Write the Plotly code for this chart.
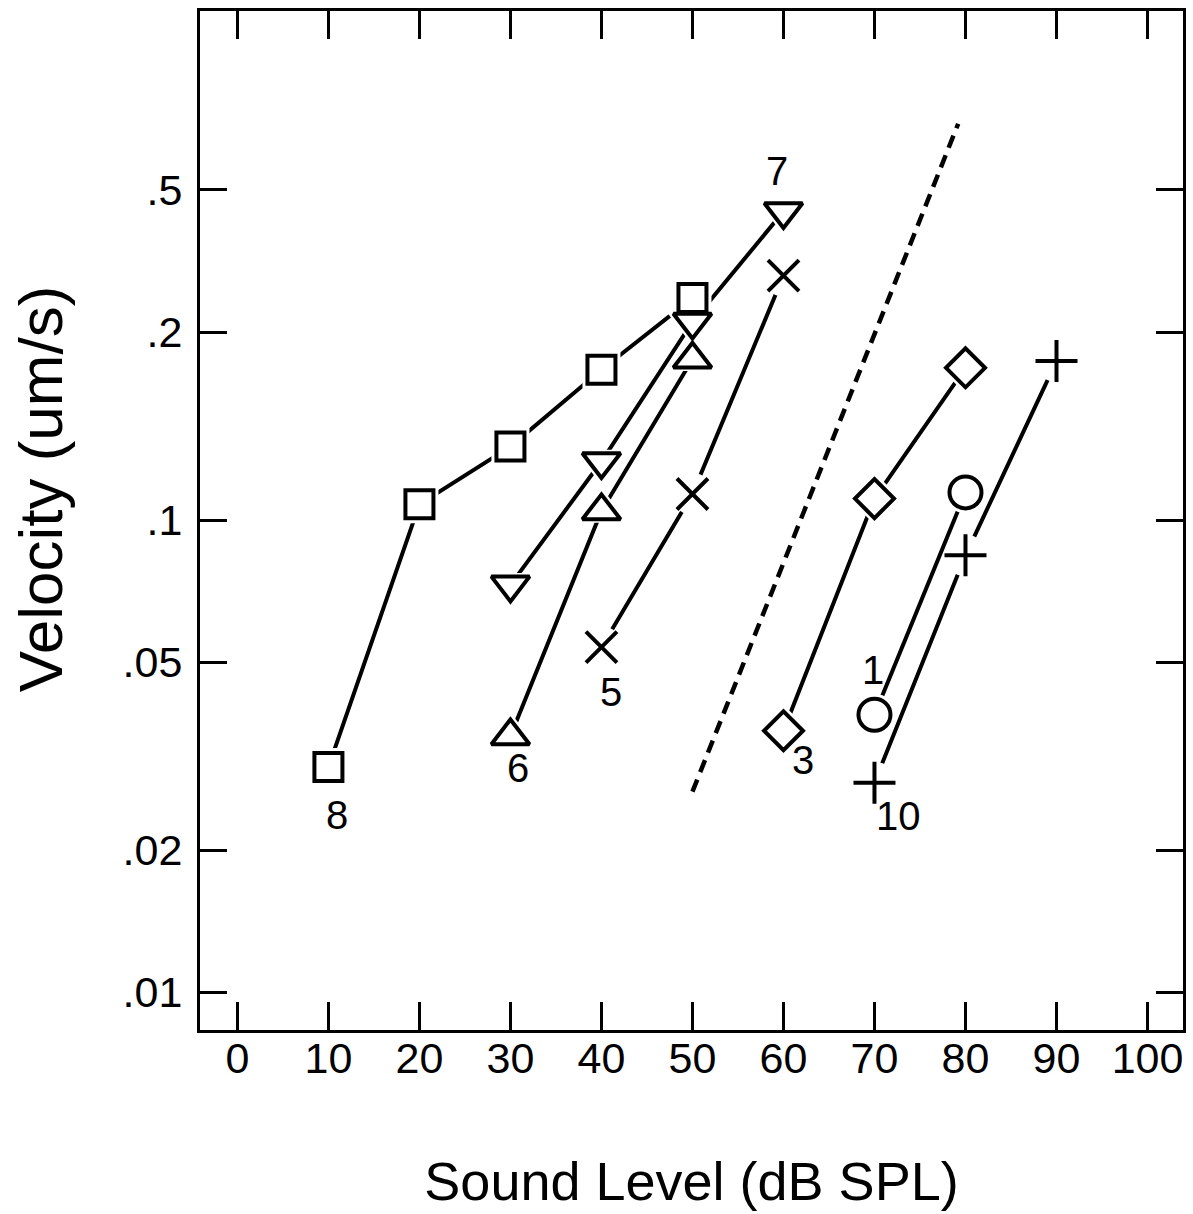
import numpy as np
import plotly.graph_objects as go

# ---------------- data ----------------
s8_x = [10, 20, 30, 40, 50]
s8_y = [0.030, 0.108, 0.143, 0.208, 0.295]

s7_x = [30, 40, 50, 60]
s7_y = [0.0729, 0.133, 0.2625, 0.450]

s6_x = [30, 40, 50]
s6_y = [0.0349, 0.1045, 0.219]

s5_x = [40, 50, 60]
s5_y = [0.0538, 0.1135, 0.329]

s3_x = [60, 70, 80]
s3_y = [0.0358, 0.111, 0.210]

s1_x = [70, 80]
s1_y = [0.0387, 0.1144]

s10_x = [70, 80, 90]
s10_y = [0.0278, 0.0842, 0.217]

ref_x = [50, 79.2]
ref_y = [0.0266, 0.69]

x_tickvals = [0, 10, 20, 30, 40, 50, 60, 70, 80, 90, 100]
y_tickvals = [0.01, 0.02, 0.05, 0.1, 0.25, 0.5]
y_ticktext = [".01", ".02", ".05", ".1", ".2", ".5"]

series_names = ["8", "7", "6", "5", "3", "1", "10"]
series_x = [s8_x, s7_x, s6_x, s5_x, s3_x, s1_x, s10_x]
series_y = [s8_y, s7_y, s6_y, s5_y, s3_y, s1_y, s10_y]

# ---------------- styles ----------------
FONT = "Liberation Sans, Arial, Helvetica, sans-serif"
LW = 4
# symbol, size, halo symbol, halo size
styles = {
    "8": ("square", 28, "square", 38),
    "7": ("triangle-down", 33, "triangle-down", 47),
    "6": ("triangle-up", 33, "triangle-up", 47),
    "5": ("x-thin", 31, "circle", 42),
    "3": ("diamond", 30, "diamond", 40),
    "1": ("circle", 32, "circle", 42),
    "10": ("cross-thin", 30, "circle", 42),
}
# label: (index of point, xshift px, yshift px)
label_pos = {
    "8": (0, 9, -48),
    "7": (-1, -6, 40),
    "6": (0, 8, -32),
    "5": (0, 10, -45),
    "3": (0, 20, -29),
    "1": (0, -1, 45),
    "10": (0, 24, -33),
}

fig = go.Figure()

# connecting lines
for name, xs, ys in zip(series_names, series_x, series_y):
    fig.add_trace(go.Scatter(x=xs, y=ys, mode="lines",
                             line=dict(color="black", width=LW),
                             showlegend=False, hoverinfo="skip"))

# reference dashed line
fig.add_trace(go.Scatter(x=ref_x, y=ref_y, mode="lines",
                         line=dict(color="black", width=4.5, dash="13px,8px"),
                         showlegend=False, hoverinfo="skip"))

# white halos to create gaps between lines and symbols
for name, xs, ys in zip(series_names, series_x, series_y):
    sym, size, hsym, hsize = styles[name]
    fig.add_trace(go.Scatter(x=xs, y=ys, mode="markers",
                             marker=dict(symbol=hsym, size=hsize, color="white",
                                         line=dict(width=0)),
                             showlegend=False, hoverinfo="skip"))

# symbols
for name, xs, ys in zip(series_names, series_x, series_y):
    sym, size, hsym, hsize = styles[name]
    fig.add_trace(go.Scatter(x=xs, y=ys, mode="markers", name=name,
                             marker=dict(symbol=sym, size=size, color="white",
                                         line=dict(color="black", width=LW)),
                             showlegend=False))

# series labels
annotations = []
for name, xs, ys in zip(series_names, series_x, series_y):
    idx, dx, dy = label_pos[name]
    annotations.append(dict(x=xs[idx], y=np.log10(ys[idx]), xref="x", yref="y",
                            text=name, showarrow=False, xshift=dx, yshift=dy,
                            font=dict(family=FONT, size=40, color="black")))

# y-axis title
annotations.append(dict(x=-0.162, y=0.5 + 32 / 1019, xref="paper", yref="paper",
                        text="Velocity (um/s)", textangle=-90, showarrow=False,
                        xanchor="center", yanchor="middle",
                        font=dict(family=FONT, size=62, color="black")))

axis_common = dict(showline=True, linecolor="black", linewidth=3,
                   mirror="allticks", ticks="inside", tickcolor="black",
                   tickwidth=2.5, showgrid=False, zeroline=False,
                   tickfont=dict(family=FONT, size=43, color="black"))

fig.update_layout(
    width=1193, height=1214,
    margin=dict(l=200, r=7, t=11, b=184, pad=0),
    paper_bgcolor="white", plot_bgcolor="white",
    showlegend=False,
    annotations=annotations,
    xaxis=dict(range=[-4.11, 103.9], tickvals=x_tickvals, ticklen=28,
               ticklabelstandoff=-12,
               title=dict(text="Sound Level (dB SPL)", standoff=82,
                          font=dict(family=FONT, size=54, color="black")),
               **axis_common),
    yaxis=dict(type="log", range=[-2.0796, 0.0775], tickvals=y_tickvals,
               ticktext=y_ticktext, ticklen=27, ticklabelstandoff=6,
               **axis_common),
)

fig.write_html("out.html")
